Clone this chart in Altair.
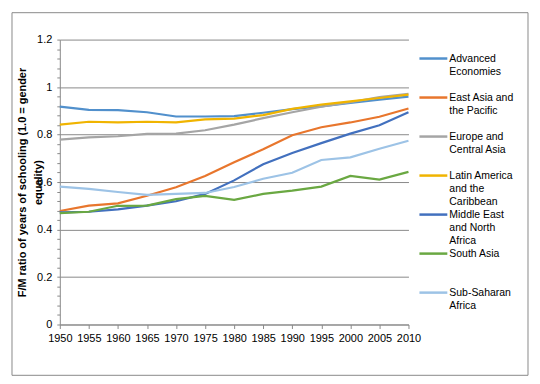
import altair as alt
import pandas as pd

years = [1950, 1955, 1960, 1965, 1970, 1975, 1980, 1985, 1990, 1995, 2000, 2005, 2010]
series_names = [
    "Advanced Economies",
    "East Asia and the Pacific",
    "Europe and Central Asia",
    "Latin America and the Caribbean",
    "Middle East and North Africa",
    "South Asia",
    "Sub-Saharan Africa",
]
legend_labels = [
    "Advanced\nEconomies",
    "East Asia and\nthe Pacific",
    "Europe and\nCentral Asia",
    "Latin America\nand the\nCaribbean",
    "Middle East\nand North\nAfrica",
    "South Asia",
    "Sub-Saharan\nAfrica",
]
colors = ["#5190CC", "#E8762D", "#A5A5A5", "#F0B400", "#4270BE", "#6AA842", "#9DC3E6"]

advanced = [0.918, 0.904, 0.903, 0.894, 0.876, 0.876, 0.878, 0.892, 0.907, 0.919, 0.933, 0.947, 0.960]
east_asia = [0.478, 0.501, 0.510, 0.542, 0.578, 0.625, 0.683, 0.738, 0.797, 0.831, 0.851, 0.875, 0.910]
europe = [0.779, 0.788, 0.793, 0.803, 0.804, 0.818, 0.842, 0.869, 0.894, 0.917, 0.936, 0.958, 0.972]
latin = [0.842, 0.854, 0.851, 0.854, 0.851, 0.864, 0.867, 0.882, 0.908, 0.926, 0.940, 0.954, 0.968]
mideast = [0.472, 0.475, 0.485, 0.501, 0.519, 0.550, 0.607, 0.675, 0.722, 0.764, 0.804, 0.839, 0.894]
south_asia = [0.469, 0.475, 0.500, 0.501, 0.528, 0.542, 0.525, 0.550, 0.564, 0.581, 0.626, 0.610, 0.643]
subsaharan = [0.581, 0.571, 0.558, 0.546, 0.550, 0.554, 0.579, 0.614, 0.639, 0.693, 0.704, 0.740, 0.774]

y_ticks = [round(i * 0.04, 2) for i in range(31)]
y_title = ["F/M ratio of years of schooling  (1.0 = gender", "equality)"]

all_values = [advanced, east_asia, europe, latin, mideast, south_asia, subsaharan]
rows = []
for name, vals in zip(series_names, all_values):
    for yr, v in zip(years, vals):
        rows.append({"year": yr, "series": name, "ratio": v})
df = pd.DataFrame(rows)
legend_df = pd.DataFrame({"series": series_names, "label": legend_labels})

major_test = "abs(datum.value * 5 - round(datum.value * 5)) < 0.001"
FONT = "Liberation Sans"
GRAY = "#8a8a8a"

color_enc = alt.Color(
    "series:N", sort=series_names,
    scale=alt.Scale(domain=series_names, range=colors), legend=None,
)

frame = alt.Chart(pd.DataFrame({"k": [0]})).mark_rect(
    fillOpacity=0, stroke=GRAY, strokeWidth=1
).encode(
    x=alt.value(-48), x2=alt.value(470), y=alt.value(-27), y2=alt.value(337)
)

lines = alt.Chart(df).mark_line(strokeWidth=2.2).encode(
    x=alt.X(
        "year:Q",
        scale=alt.Scale(domain=[1950, 2010], nice=False, zero=False),
        axis=alt.Axis(
            values=years, format="d", title=None, grid=False,
            tickSize=4, labelPadding=4, domainColor=GRAY, tickColor=GRAY,
            labelFont=FONT, labelFontSize=11, labelColor="#000000",
            labelOverlap=False, labelFlush=False,
        ),
    ),
    y=alt.Y(
        "ratio:Q",
        scale=alt.Scale(domain=[0, 1.2], nice=False),
        axis=alt.Axis(
            values=y_ticks,
            labelExpr=major_test + " ? format(datum.value, '~g') : ''",
            labelOverlap=False, labelFlush=False,
            tickSize=3, labelPadding=5,
            domainColor=GRAY, tickColor=GRAY,
            grid=True, gridColor=GRAY,
            gridOpacity={"condition": {"test": major_test, "value": 1}, "value": 0},
            labelFont=FONT, labelFontSize=11, labelColor="#000000",
            title=y_title, titleFont=FONT, titleFontSize=11, titleFontWeight="bold",
            titleColor="#000000", titleLineHeight=16, titleAngle=270,
            titleX=-43, titleY=143, titleAlign="center", titleBaseline="top",
        ),
    ),
    color=color_enc,
)

legend_y = alt.Y(
    "series:N",
    scale=alt.Scale(type="point", domain=series_names, range=[19, 254], padding=0),
    axis=None,
)

legend_swatch = alt.Chart(legend_df).mark_rule(strokeWidth=2.5).encode(
    y=legend_y, x=alt.value(361), x2=alt.value(389), color=color_enc,
)

legend_text = alt.Chart(legend_df).mark_text(
    align="left", baseline="middle", lineBreak="\n", lineHeight=13.3,
    font=FONT, fontSize=10.5, color="#000000",
).encode(
    y=legend_y, x=alt.value(391), text="label:N",
)

chart = alt.layer(frame, lines, legend_swatch, legend_text).resolve_scale(
    y="independent"
).properties(
    width=350, height=286,
    padding={"left": 3, "top": 3, "right": 3, "bottom": 3},
    background="#ffffff",
).configure_view(strokeWidth=0)

chart.save("out.html", embed_options={"renderer": "svg", "actions": False})
